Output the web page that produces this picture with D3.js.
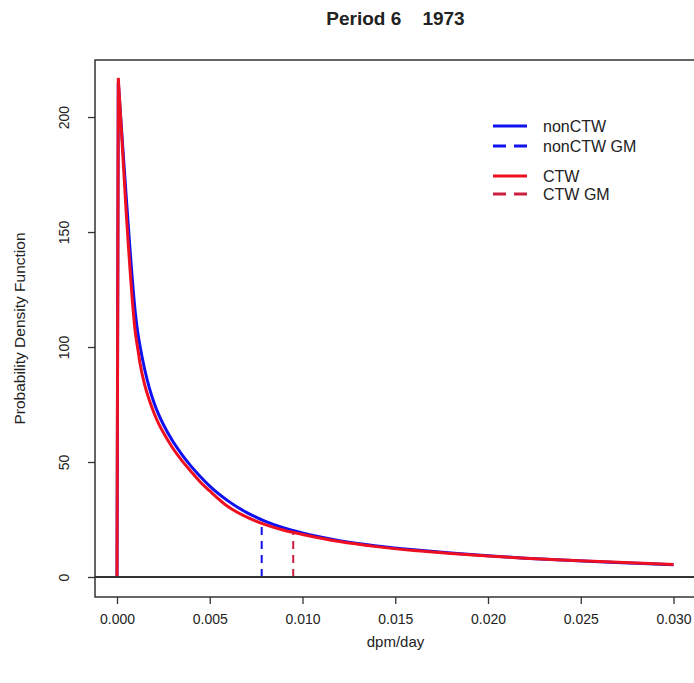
<!DOCTYPE html>
<html>
<head>
<meta charset="utf-8">
<script src="https://cdn.jsdelivr.net/npm/d3@7"></script>
<style>
  body { margin: 0; background: #fff; }
  text { font-family: "Liberation Sans", Arial, sans-serif; fill: #222; }
</style>
</head>
<body>
<div id="chart"></div>
<script>
// dpm/day grid the densities were read at
var xValues = [0, 0.00007, 0.0005, 0.001, 0.001125, 0.00125, 0.0015, 0.00175, 0.002, 0.00225,
    0.0025, 0.003, 0.0035, 0.004, 0.0045, 0.005, 0.006, 0.007, 0.008, 0.009,
    0.010, 0.012, 0.014, 0.016, 0.018, 0.020, 0.022, 0.024, 0.026, 0.028, 0.030];
var nonCtwPdf = [0, 215, 165, 114, 106, 100, 90, 82, 75.7, 70.6,
    66.3, 59.1, 53.2, 48.1, 43.6, 39.5, 33.0, 28.0, 24.2, 21.3,
    19.1, 15.8, 13.5, 11.8, 10.4, 9.2, 8.2, 7.35, 6.6, 5.95, 5.3];
var ctwPdf = [0, 217, 158, 105.5, 99, 92.5, 83.3, 76.7, 71.2, 66.6,
    62.8, 56.1, 50.6, 45.8, 41.2, 37.4, 30.5, 26.0, 22.8, 20.3,
    18.5, 15.4, 13.2, 11.5, 10.2, 9.1, 8.2, 7.4, 6.75, 6.1, 5.45];
// geometric means (x) and the pdf height they are drawn up to
var gmX = [0.0078, 0.0095];
var gmY = [24.8, 19.3];

var xTicks = [0, 0.005, 0.010, 0.015, 0.020, 0.025, 0.030];
var yTicks = [0, 50, 100, 150, 200];
var legendLabels = ['nonCTW', 'nonCTW GM', 'CTW', 'CTW GM'];

var width = 694, height = 683,
    blue = '#1010f0', red = '#ee1020', redGm = '#cc2040',
    box = {left: 95, top: 60, right: 696, bottom: 597};

var svg = d3.select('#chart').append('svg')
    .attr('width', width)
    .attr('height', height);

var x = d3.scaleLinear().domain([-0.001186, 0.031213]).range([box.left, box.right]);
var y = d3.scaleLinear().domain([-8.7, 224.8]).range([box.bottom, box.top]);

// Plot frame
svg.append('rect')
    .attr('x', box.left).attr('y', box.top)
    .attr('width', box.right - box.left).attr('height', box.bottom - box.top)
    .attr('fill', 'none').attr('stroke', '#333').attr('stroke-width', 1.5);

// Axes
var xAxis = d3.axisBottom(x).tickValues(xTicks).tickSize(7).tickPadding(10)
    .tickFormat(d3.format('.3f'));
var gx = svg.append('g')
    .attr('transform', 'translate(0,' + box.bottom + ')')
    .call(xAxis);
gx.select('.domain').remove();
gx.selectAll('line').attr('stroke', '#333').attr('stroke-width', 1.3);
gx.selectAll('text').style('font-size', '14px').attr('fill', '#222');

var yAxis = d3.axisLeft(y).tickValues(yTicks).tickSize(7);
var gy = svg.append('g')
    .attr('transform', 'translate(' + box.left + ',0)')
    .call(yAxis);
gy.select('.domain').remove();
gy.selectAll('line').attr('stroke', '#333').attr('stroke-width', 1.3);
// R style: y labels run parallel to the axis
gy.selectAll('text')
    .style('font-size', '14px').attr('fill', '#222')
    .attr('x', 0).attr('y', 0).attr('dy', 0)
    .attr('text-anchor', 'middle')
    .attr('transform', 'translate(-26,0) rotate(-90)');

// Titles
svg.append('text')
    .attr('x', (box.left + box.right) / 2).attr('y', 25)
    .attr('text-anchor', 'middle')
    .style('font-size', '19px').style('font-weight', 'bold')
    .attr('xml:space', 'preserve')
    .text('Period 6    1973');

svg.append('text')
    .attr('x', (box.left + box.right) / 2).attr('y', 647)
    .attr('text-anchor', 'middle')
    .style('font-size', '15px')
    .text('dpm/day');

svg.append('text')
    .attr('transform', 'translate(25,' + (box.top + box.bottom) / 2 + ') rotate(-90)')
    .attr('text-anchor', 'middle')
    .style('font-size', '15.5px')
    .text('Probability Density Function');

// Curves: straight rise to the peak, smooth decay after it
var riseLine = d3.line()
    .x(function (d) { return x(d[0]); })
    .y(function (d) { return y(d[1]); });
var decayLine = d3.line()
    .curve(d3.curveMonotoneX)
    .x(function (d) { return x(d[0]); })
    .y(function (d) { return y(d[1]); });

function drawSeries(values, color, gmIndex, gmColor) {
    var pts = d3.zip(xValues, values);
    svg.append('path')
        .attr('d', riseLine(pts.slice(0, 2)) + decayLine(pts.slice(1)).replace(/^M/, 'L'))
        .attr('fill', 'none')
        .attr('stroke', color)
        .attr('stroke-width', 3)
        .attr('stroke-linejoin', 'miter');
    svg.append('line')
        .attr('x1', x(gmX[gmIndex])).attr('x2', x(gmX[gmIndex]))
        .attr('y1', y(0)).attr('y2', y(gmY[gmIndex]))
        .attr('stroke', gmColor)
        .attr('stroke-width', 2)
        .attr('stroke-dasharray', '8,6');
}
drawSeries(nonCtwPdf, blue, 0, blue);
drawSeries(ctwPdf, red, 1, redGm);

// Zero line
svg.append('line')
    .attr('x1', box.left).attr('x2', box.right)
    .attr('y1', y(0)).attr('y2', y(0))
    .attr('stroke', '#333').attr('stroke-width', 2);

// Legend (two groups, small gap between them)
var legendY = [126, 146, 176, 194],
    legendColors = [blue, blue, red, redGm],
    legendDashed = [false, true, false, true];
var legend = svg.append('g');
legendLabels.forEach(function (label, i) {
    legend.append('line')
        .attr('x1', 493).attr('x2', 527)
        .attr('y1', legendY[i]).attr('y2', legendY[i])
        .attr('stroke', legendColors[i])
        .attr('stroke-width', 3)
        .attr('stroke-dasharray', legendDashed[i] ? '13,8' : null);
    legend.append('text')
        .attr('x', 543).attr('y', legendY[i])
        .attr('dy', '0.35em')
        .style('font-size', '16px')
        .text(label);
});
</script>
</body>
</html>
